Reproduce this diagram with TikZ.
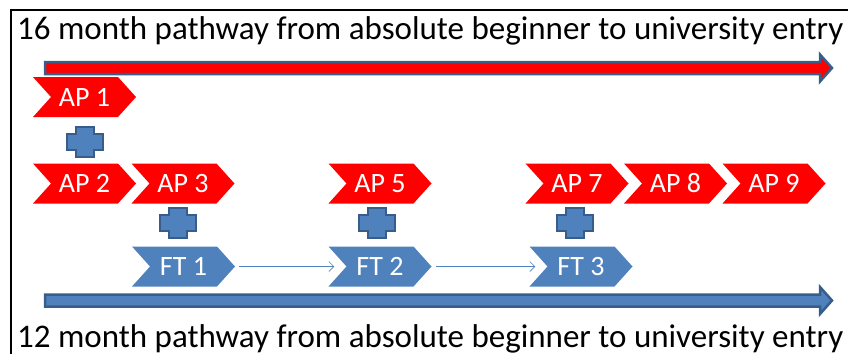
\documentclass[tikz,border=0pt]{standalone}
\usepackage{fontspec}
\setmainfont{Carlito}
\usetikzlibrary{arrows.meta, positioning, shapes.symbols}
\definecolor{apred}{HTML}{FF0000}
\definecolor{ftblue}{HTML}{4F81BD}
\definecolor{ftline}{HTML}{385D8A}
\tikzset{
    chevron/.style={signal, signal from=west, signal to=east, signal pointer angle=96,
        minimum width=103pt, minimum height=40pt, inner sep=0pt,
        text=white, font=\fontsize{28}{28}\selectfont},
    apbox/.style={chevron, fill=apred},
    ftbox/.style={chevron, fill=ftblue},
    pathtext/.style={anchor=base west, inner sep=0pt, font=\fontsize{33}{33}\selectfont},
    timebar/.style={draw=ftline, line width=2.5pt, line join=miter},
    link/.style={ftblue, line width=0.6pt, -{Straight Barb[length=5pt, width=10pt]},
        shorten <=4pt, shorten >=12pt},
    joinplus/.pic={
        \draw[fill=ftblue, draw=ftline, line width=1.6pt]
            (-9,-15) -- (9,-15) -- (9,-8) -- (17.8,-8) -- (17.8,8)
            -- (9,8) -- (9,15) -- (-9,15) -- (-9,8) -- (-17.8,8)
            -- (-17.8,-8) -- (-9,-8) -- cycle;
    }
}
\begin{document}
\begin{tikzpicture}[x=1pt, y=-1pt]
    \def \W {848}
    \def \H {354}
    \useasboundingbox (0,0) rectangle (\W,\H);
    \draw[line width=2pt] (11,\H) -- (11,10) -- (\W,10);
    \node[pathtext] (t16) at (17,39) {16 month pathway from absolute beginner to university entry};
    \node[pathtext] (t12) at (17,347) {12 month pathway from absolute beginner to university entry};
    \foreach \y/\c in {68/apred, 300.5/ftblue}{
    \draw[timebar, fill=\c] (45,\y-6) -- (820,\y-6) -- (820,\y-13.5) -- (832,\y)
        -- (820,\y+13.5) -- (820,\y+6) -- (45,\y+6) -- cycle;}
    \node[apbox] (ap1) at (84.5,97) {AP 1};
    \foreach \n/\x in {2/84.5, 3/183, 5/380, 7/577, 8/675.5, 9/774}{
    \node[apbox] (ap\n) at (\x,183.5) {AP \n};}
    \foreach \n/\x in {1/183.5, 2/380, 3/581}{
    \node[ftbox] (ft\n) at (\x,266.5) {FT \n};}
    \pic at (85,142) {joinplus};
    \foreach \x in {178, 377, 575}{
    \pic at (\x,223) {joinplus};}
    \draw[link] (ft1.east) -- (ft2.west);
    \draw[link] (ft2.east) -- (ft3.west);
\end{tikzpicture}
\end{document}
